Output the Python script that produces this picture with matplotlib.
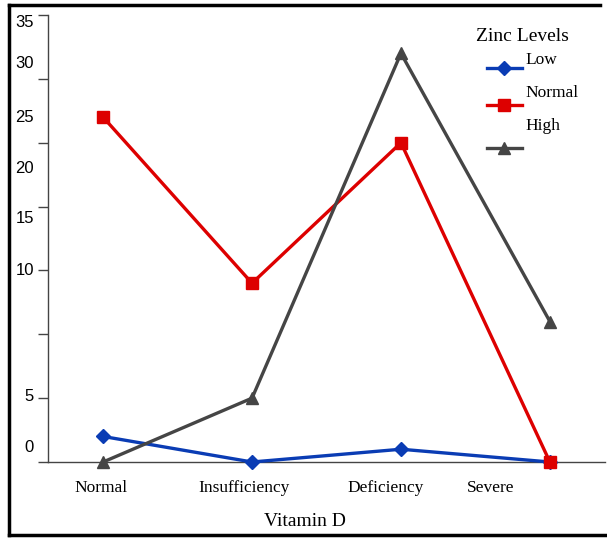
import matplotlib
matplotlib.use("Agg")
import matplotlib.pyplot as plt
from matplotlib.lines import Line2D

categories = ["Normal", "Insufficiency", "Deficiency", "Severe"]
low = [2, 0, 1, 0]
normal = [27, 14, 25, 0]
high = [0, 5, 32, 11]
series_names = ["Low", "Normal", "High"]
ytick_values = [0, 5, 10, 15, 20, 25, 30, 35]
ytick_labels = ["0", "5", "10", "15", "20", "25", "30", "35"]

# layout (where the reference draws its labels)
ylabel_pos = [1.1, 5.1, 15.0, 19.1, 23.0, 27.0, 31.2, 34.4]
xlabel_pos = [-0.013, 0.946, 1.90, 2.60]

W, H = 607, 538
fig = plt.figure(figsize=(W / 100, H / 100), dpi=100)
ax = fig.add_axes([48 / W, 1 - 462 / H, (605 - 48) / W, (462 - 15) / H])

x = list(range(len(categories)))
blue, red, gray = "#0a3cb4", "#dd0000", "#454545"
ax.plot(x, low, color=blue, lw=2.4, marker="D", ms=7, zorder=3, clip_on=False)
ax.plot(x, normal, color=red, lw=2.4, marker="s", ms=8, zorder=3, clip_on=False)
ax.plot(x, high, color=gray, lw=2.4, marker="^", ms=9, zorder=3, clip_on=False)

ax.set_xlim(-0.37, 3.37)
ax.set_ylim(0, 35)
ax.spines["top"].set_visible(False)
ax.spines["right"].set_visible(False)
ax.spines["left"].set_color("#444444")
ax.spines["bottom"].set_color("#444444")
ax.spines["left"].set_linewidth(1)
ax.spines["bottom"].set_linewidth(1)

ax.set_yticks(ytick_values)
ax.set_yticklabels([])
ax.tick_params(axis="y", length=7, width=1, color="#444444")
tr = ax.get_yaxis_transform()
for lab, pos in zip(ytick_labels, ylabel_pos):
    ax.text(-0.025, pos, lab, transform=tr, ha="right", va="center",
            fontsize=12, family="Liberation Sans", color="#000000")

ax.set_xticks(xlabel_pos)
ax.set_xticklabels(categories, family="Liberation Serif", fontsize=12.5)
ax.tick_params(axis="x", length=0, pad=13)
fig.text(305 / W, 1 - 521 / H, "Vitamin D", ha="center", va="center",
         family="Liberation Serif", fontsize=14)

# legend
fig.text(522 / W, 1 - 37 / H, "Zinc Levels", ha="center", va="center",
         family="Liberation Serif", fontsize=14)
leg_items = [(blue, "D", 7, 60, 68), (red, "s", 8, 93, 105), (gray, "^", 9, 126, 148)]
for name, (c, m, ms, ty, ly) in zip(series_names, leg_items):
    fig.add_artist(Line2D([487 / W, 522 / W], [1 - ly / H, 1 - ly / H], color=c, lw=2.4))
    fig.add_artist(Line2D([504 / W], [1 - ly / H], color=c, marker=m, ms=ms))
    fig.text(525 / W, 1 - ty / H, name, ha="left", va="center",
             family="Liberation Serif", fontsize=12.5)

# frame
for xs, ys in [([9, 9], [5, 535]), ([9, 600], [5, 5]), ([9, 606], [535, 535])]:
    fig.add_artist(Line2D([v / W for v in xs], [1 - v / H for v in ys], color="black", lw=2.5))

fig.savefig("out.png", dpi=100)
